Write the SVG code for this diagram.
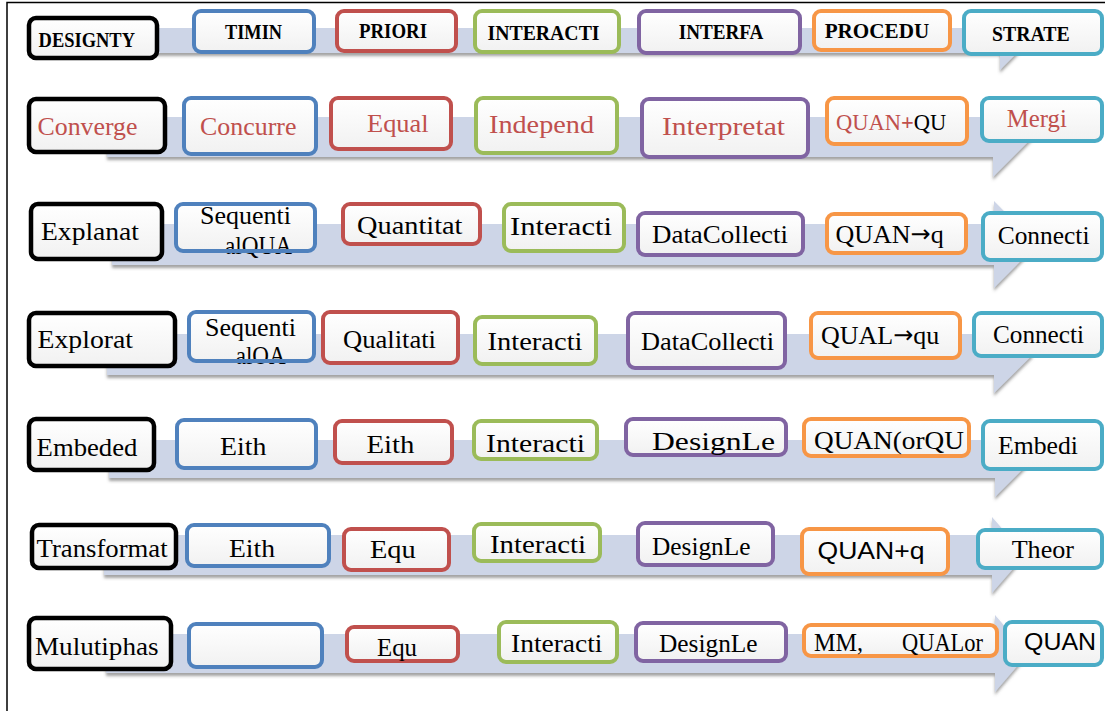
<svg xmlns="http://www.w3.org/2000/svg" width="1105" height="711" viewBox="0 0 1105 711">
<defs>
<linearGradient id="boxfill" x1="0" y1="0" x2="0" y2="1">
<stop offset="0" stop-color="#ffffff"/><stop offset="1" stop-color="#f1f1f1"/>
</linearGradient>
<filter id="shadow" x="-5%" y="-20%" width="110%" height="160%">
<feDropShadow dx="0" dy="3" stdDeviation="1.5" flood-color="#555" flood-opacity="0.55"/>
</filter>
<style>
.band{fill:#cdd5e7;filter:url(#shadow)}
.box{fill:url(#boxfill);stroke-width:4}
.nofill{fill:none;stroke-width:4}
.k{stroke:#000;stroke-width:4.5}
.bl{stroke:#4f81bd}
.rd{stroke:#c0504d}
.gr{stroke:#9bbb59}
.pu{stroke:#8064a2}
.or{stroke:#f79646}
.cy{stroke:#4bacc6}
.h{font-family:"Liberation Serif","Times New Roman",serif;font-weight:bold;font-size:20px;fill:#000}
.t{font-family:"Liberation Serif","Times New Roman",serif;font-size:26px;fill:#000}
.a{font-family:"DejaVu Sans",sans-serif;font-size:24px}
.r{fill:#c0504d}
.s{font-family:"Liberation Sans",Arial,sans-serif;font-size:24px;fill:#000}
.frame{stroke:#000;stroke-width:1.5;fill:none}
</style>
</defs>
<rect width="1105" height="711" fill="#fff"/>
<path class="frame" d="M7,711 V2.5 H1105"/>
<g id="connectors">
<path class="band" d="M107,28 H1000 V12 L1029,41 L1000,70 V53 H107 Z"/>
<path class="band" d="M107,117 H993 V97 L1033,137 L993,177 V157 H107 Z"/>
<path class="band" d="M112,224 H994 V201 L1037,244.5 L994,288 V265 H112 Z"/>
<path class="band" d="M107,334 H994 V316 L1033,354.5 L994,393 V375 H107 Z"/>
<path class="band" d="M109,440 H995 V421 L1033,459 L995,497 V478 H109 Z"/>
<path class="band" d="M104,535 H992 V517 L1025,555 L992,593 V575 H104 Z"/>
<path class="band" d="M106,634 H995 V615 L1028,653.5 L995,692 V673 H106 Z"/>
</g>
<!-- Row 1 -->
<g id="n-designty"><rect class="box k" x="29" y="18" width="128" height="40" rx="7"/><text class="h" x="38.6" y="46.5" textLength="96.4" lengthAdjust="spacingAndGlyphs">DESIGNTY</text></g>
<g id="n-timin"><rect class="box bl" x="194" y="11" width="120" height="41" rx="7"/><text class="h" x="225" y="39.3" textLength="57" lengthAdjust="spacingAndGlyphs">TIMIN</text></g>
<g id="n-priori"><rect class="box rd" x="337" y="11" width="119" height="40" rx="7"/><text class="h" x="359" y="38" textLength="68" lengthAdjust="spacingAndGlyphs">PRIORI</text></g>
<g id="n-interacti-h"><rect class="box gr" x="475" y="11" width="144" height="41" rx="7"/><text class="h" x="487.5" y="40" textLength="112" lengthAdjust="spacingAndGlyphs">INTERACTI</text></g>
<g id="n-interfa"><rect class="box pu" x="639" y="11" width="161" height="42" rx="7"/><text class="h" x="678.7" y="39.3" textLength="84.7" lengthAdjust="spacingAndGlyphs">INTERFA</text></g>
<g id="n-procedu"><rect class="box or" x="814" y="11" width="136" height="39" rx="7"/><text class="h" x="824.7" y="38" textLength="104.5" lengthAdjust="spacingAndGlyphs">PROCEDU</text></g>
<g id="n-strate"><rect class="box cy" x="964" y="11" width="138" height="43" rx="7"/><text class="h" x="992" y="40.7" textLength="77.7" lengthAdjust="spacingAndGlyphs">STRATE</text></g>
<!-- Row 2 -->
<g id="n-converge"><rect class="box k" x="29" y="99" width="136" height="53" rx="7"/><text class="t r" x="37.5" y="135" textLength="100" lengthAdjust="spacingAndGlyphs">Converge</text></g>
<g id="n-concurre"><rect class="box bl" x="184" y="98" width="132" height="56" rx="7"/><text class="t r" x="200" y="135" textLength="96.4" lengthAdjust="spacingAndGlyphs">Concurre</text></g>
<g id="n-equal"><rect class="box rd" x="331" y="98" width="120" height="51" rx="7"/><text class="t r" x="367" y="131.7" textLength="61.6" lengthAdjust="spacingAndGlyphs">Equal</text></g>
<g id="n-independ"><rect class="box gr" x="476" y="98" width="141" height="55" rx="7"/><text class="t r" x="489" y="133" textLength="105" lengthAdjust="spacingAndGlyphs">Independ</text></g>
<g id="n-interpretat"><rect class="box pu" x="642" y="99" width="166" height="58" rx="7"/><text class="t r" x="662" y="135" textLength="123" lengthAdjust="spacingAndGlyphs">Interpretat</text></g>
<g id="n-quanqu"><rect class="box or" x="827" y="98" width="140" height="46" rx="7"/><text class="t" x="836" y="130" style="font-size:22.5px"><tspan class="r">QUAN</tspan><tspan class="r" font-weight="bold">+</tspan>QU</text></g>
<g id="n-mergi"><rect class="box cy" x="982" y="98" width="120" height="43" rx="7"/><text class="t r" x="1006.7" y="126.7" textLength="60.1" lengthAdjust="spacingAndGlyphs">Mergi</text></g>
<!-- Row 3 -->
<g id="n-explanat"><rect class="box k" x="31" y="204" width="131" height="55" rx="7"/><text class="t" x="41" y="240" textLength="98" lengthAdjust="spacingAndGlyphs">Explanat</text></g>
<g id="n-seq-qua"><rect class="box" x="176" y="204" width="139" height="47" rx="7"/><text class="t" x="200" y="224" textLength="91" lengthAdjust="spacingAndGlyphs">Sequenti</text><text class="t" x="225" y="254" textLength="67" lengthAdjust="spacingAndGlyphs">alQUA</text><rect class="nofill bl" x="176" y="204" width="139" height="47" rx="7"/></g>
<g id="n-quantitat"><rect class="box rd" x="343" y="204" width="137" height="40" rx="7"/><text class="t" x="357" y="234" textLength="105.5" lengthAdjust="spacingAndGlyphs">Quantitat</text></g>
<g id="n-interacti-3"><rect class="box gr" x="504" y="204" width="120" height="47" rx="7"/><text class="t" x="510" y="235" textLength="102" lengthAdjust="spacingAndGlyphs">Interacti</text></g>
<g id="n-datacollecti-3"><rect class="box pu" x="638" y="213" width="165" height="42" rx="7"/><text class="t" x="652" y="243" textLength="136" lengthAdjust="spacingAndGlyphs">DataCollecti</text></g>
<g id="n-quan-q"><rect class="box or" x="827" y="214" width="139" height="39" rx="7"/><text class="t" x="835.5" y="243">QUAN<tspan class="a" dy="-1">→</tspan><tspan dy="1">q</tspan></text></g>
<g id="n-connecti-3"><rect class="box cy" x="983" y="213" width="119" height="47" rx="7"/><text class="t" x="997.7" y="243.5" textLength="91.8" lengthAdjust="spacingAndGlyphs">Connecti</text></g>
<!-- Row 4 -->
<g id="n-explorat"><rect class="box k" x="29" y="313" width="146" height="53" rx="7"/><text class="t" x="37.5" y="348" textLength="95.5" lengthAdjust="spacingAndGlyphs">Explorat</text></g>
<g id="n-seq-oa"><rect class="box" x="189" y="312" width="125" height="49" rx="7"/><text class="t" x="205" y="336" textLength="91" lengthAdjust="spacingAndGlyphs">Sequenti</text><text class="t" x="235.7" y="364" textLength="50" lengthAdjust="spacingAndGlyphs">alOA</text><rect class="nofill bl" x="189" y="312" width="125" height="49" rx="7"/></g>
<g id="n-qualitati"><rect class="box rd" x="323" y="312" width="135" height="51" rx="7"/><text class="t" x="343" y="348" textLength="93" lengthAdjust="spacingAndGlyphs">Qualitati</text></g>
<g id="n-interacti-4"><rect class="box gr" x="475" y="317" width="121" height="47" rx="7"/><text class="t" x="487.5" y="350" textLength="95" lengthAdjust="spacingAndGlyphs">Interacti</text></g>
<g id="n-datacollecti-4"><rect class="box pu" x="628" y="313" width="157" height="55" rx="7"/><text class="t" x="641" y="350" textLength="133" lengthAdjust="spacingAndGlyphs">DataCollecti</text></g>
<g id="n-qual-qu"><rect class="box or" x="811" y="313" width="149" height="45" rx="7"/><text class="t" x="821" y="344">QUAL<tspan class="a" dy="-1">→</tspan><tspan dy="1">qu</tspan></text></g>
<g id="n-connecti-4"><rect class="box cy" x="974" y="313" width="128" height="43" rx="7"/><text class="t" x="993" y="343" textLength="91" lengthAdjust="spacingAndGlyphs">Connecti</text></g>
<!-- Row 5 -->
<g id="n-embeded"><rect class="box k" x="29" y="419" width="125" height="51" rx="7"/><text class="t" x="36.6" y="456" textLength="100.8" lengthAdjust="spacingAndGlyphs">Embeded</text></g>
<g id="n-eith-5a"><rect class="box bl" x="177" y="420" width="139" height="48" rx="7"/><text class="t" x="220" y="455" textLength="46.4" lengthAdjust="spacingAndGlyphs">Eith</text></g>
<g id="n-eith-5b"><rect class="box rd" x="335" y="421" width="117" height="42" rx="7"/><text class="t" x="366.5" y="453" textLength="47.9" lengthAdjust="spacingAndGlyphs">Eith</text></g>
<g id="n-interacti-5"><rect class="box gr" x="474" y="421" width="123" height="38" rx="7"/><text class="t" x="486" y="452" textLength="99" lengthAdjust="spacingAndGlyphs">Interacti</text></g>
<g id="n-designle-5"><rect class="box pu" x="626" y="419" width="160" height="36" rx="7"/><text class="t" x="652" y="450" textLength="123" lengthAdjust="spacingAndGlyphs">DesignLe</text></g>
<g id="n-quanorqu"><rect class="box or" x="804" y="419" width="165" height="37" rx="7"/><text class="t" x="814" y="449" textLength="150" lengthAdjust="spacingAndGlyphs">QUAN(orQU</text></g>
<g id="n-embedi"><rect class="box cy" x="983" y="421" width="119" height="48" rx="7"/><text class="t" x="998" y="454" textLength="80" lengthAdjust="spacingAndGlyphs">Embedi</text></g>
<!-- Row 6 -->
<g id="n-transformat"><rect class="box k" x="32" y="525" width="144" height="43" rx="7"/><text class="t" x="36.6" y="557" textLength="131" lengthAdjust="spacingAndGlyphs">Transformat</text></g>
<g id="n-eith-6"><rect class="box bl" x="187" y="525" width="142" height="41" rx="7"/><text class="t" x="229" y="557" textLength="46" lengthAdjust="spacingAndGlyphs">Eith</text></g>
<g id="n-equ-6"><rect class="box rd" x="344" y="529" width="105" height="41" rx="7"/><text class="t" x="370" y="558" textLength="45.8" lengthAdjust="spacingAndGlyphs">Equ</text></g>
<g id="n-interacti-6"><rect class="box gr" x="474" y="524" width="126" height="37" rx="7"/><text class="t" x="490" y="553" textLength="96" lengthAdjust="spacingAndGlyphs">Interacti</text></g>
<g id="n-designle-6"><rect class="box pu" x="638" y="523" width="135" height="42" rx="7"/><text class="t" x="652" y="555" textLength="98.5" lengthAdjust="spacingAndGlyphs">DesignLe</text></g>
<g id="n-quan-plus-q"><rect class="box or" x="802" y="529" width="146" height="45" rx="7"/><text class="s" x="817.5" y="559" textLength="107" lengthAdjust="spacingAndGlyphs">QUAN+q</text></g>
<g id="n-theor"><rect class="box cy" x="978" y="530" width="124" height="38" rx="7"/><text class="t" x="1011.7" y="558" textLength="62.3" lengthAdjust="spacingAndGlyphs">Theor</text></g>
<!-- Row 7 -->
<g id="n-mulutiphas"><rect class="box k" x="29" y="618" width="142" height="51" rx="7"/><text class="t" x="35" y="655" textLength="123.6" lengthAdjust="spacingAndGlyphs">Mulutiphas</text></g>
<g id="n-blank"><rect class="box bl" x="189" y="624" width="133" height="43" rx="7"/></g>
<g id="n-equ-7"><rect class="box rd" x="347" y="627" width="111" height="34" rx="7"/><text class="t" x="377" y="656" textLength="40" lengthAdjust="spacingAndGlyphs">Equ</text></g>
<g id="n-interacti-7"><rect class="box gr" x="499" y="622" width="118" height="40" rx="7"/><text class="t" x="511" y="652" textLength="91.5" lengthAdjust="spacingAndGlyphs">Interacti</text></g>
<g id="n-designle-7"><rect class="box pu" x="636" y="623" width="150" height="38" rx="7"/><text class="t" x="659" y="652" textLength="98.6" lengthAdjust="spacingAndGlyphs">DesignLe</text></g>
<g id="n-mm-qualor"><rect class="box or" x="804" y="625" width="193" height="31" rx="7"/><text class="t" x="814" y="651" textLength="49" lengthAdjust="spacingAndGlyphs">MM,</text><text class="t" x="902" y="651" textLength="81" lengthAdjust="spacingAndGlyphs">QUALor</text></g>
<g id="n-quan-7"><rect class="box cy" x="1005" y="622" width="97" height="43" rx="7"/><text class="s" x="1024" y="650" textLength="72" lengthAdjust="spacingAndGlyphs">QUAN</text></g>
</svg>
